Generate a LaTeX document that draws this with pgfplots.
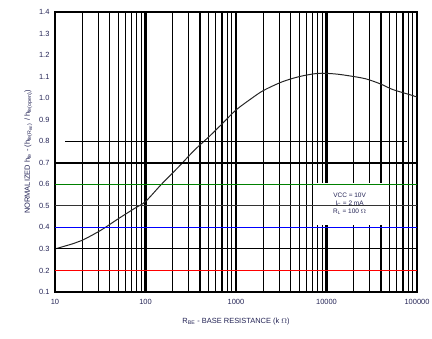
\documentclass[border=0pt]{standalone}
\usepackage{pgfplots}
\pgfplotsset{compat=1.18}
\usepackage{fontspec}
\setmainfont{Liberation Sans}
\definecolor{textc}{RGB}{35,35,85}
\begin{document}
\begin{tikzpicture}
\useasboundingbox (-55bp,-47bp) rectangle (377bp,292bp);
\begin{axis}[
  at={(0,0)}, anchor=south west,
  scale only axis, width=362bp, height=280bp,
  xmode=log, log basis x=10,
  xmin=10, xmax=100000, ymin=0.1, ymax=1.4,
  xtick={10,100,1000,10000,100000},
  xticklabels={10,100,1000,10000,100000},
  minor xtick={20,30,40,50,60,70,80,90,200,300,400,500,600,700,800,900,2000,3000,4000,5000,6000,7000,8000,9000,20000,30000,40000,50000,60000,70000,80000,90000},
  ytick={0.1,0.2,0.3,0.4,0.5,0.6,0.7,0.8,0.9,1.0,1.1,1.2,1.3,1.4},
  yticklabels={0.1,0.2,0.3,0.4,0.5,0.6,0.7,0.8,0.9,1.0,1.1,1.2,1.3,1.4},
  tick label style={font=\fontsize{7.5}{8}\selectfont, text=textc},
  xticklabel style={yshift=-4bp},
  yticklabel style={xshift=-2bp},
  major tick length=0pt, minor tick length=0pt,
  xmajorgrids=true, xminorgrids=true,
  grid style={black, line width=1.1pt},
  axis line style={black, line width=1.6pt},
  xlabel={R\textsubscript{BE} - BASE RESISTANCE (k $\Omega$)},
  ylabel={NORMALIZED h\textsubscript{fe} - (h\textsubscript{fe(R\textsubscript{BE})} / h\textsubscript{fe(open)})},
  label style={font=\fontsize{7.5}{9}\selectfont, text=textc},
  xlabel style={yshift=-6bp},
  clip=false,
]
\draw[black, line width=2.6pt] (axis cs:100,0.1) -- (axis cs:100,1.4);
\draw[black, line width=2.6pt] (axis cs:1000,0.1) -- (axis cs:1000,1.4);
\draw[black, line width=2.6pt] (axis cs:10000,0.1) -- (axis cs:10000,1.4);
\addplot[black!85, line width=1pt, smooth, tension=0.5] coordinates {
(10,0.30) (16,0.325) (20,0.34) (31.6,0.385) (50,0.44) (77,0.49) (100,0.52)
(150,0.60) (231,0.68) (350,0.76) (500,0.82) (700,0.88) (1000,0.945)
(1500,1.00) (2000,1.035) (3200,1.075) (5000,1.10) (8000,1.115)
(12000,1.113) (17000,1.105) (27000,1.09) (40000,1.065) (54000,1.04)
(85000,1.015) (100000,1.005)
};
\node[fill=white, inner sep=2bp, minimum width=68bp, minimum height=42bp, align=center,
  font=\fontsize{6.5}{8}\selectfont, text=textc] at (axis cs:18000,0.51)
  {VCC = 10V\\ I\textsubscript{C} = 2 mA\\ R\textsubscript{L} = 100 $\Omega$};
\end{axis}
\draw[red, line width=1.1pt] (0bp,21.54bp) -- (362bp,21.54bp);
\draw[black, line width=1.1pt] (0bp,43.08bp) -- (362bp,43.08bp);
\draw[blue, line width=1.1pt] (0bp,64.62bp) -- (362bp,64.62bp);
\draw[black!80, line width=1.1pt] (0bp,86.15bp) -- (362bp,86.15bp);
\draw[green!50!black, line width=1.1pt] (0bp,107.69bp) -- (362bp,107.69bp);
\draw[black, line width=2pt] (0bp,129.23bp) -- (362bp,129.23bp);
\draw[black, line width=1.1pt] (10bp,150.77bp) -- (352bp,150.77bp);
\end{tikzpicture}
\end{document}
